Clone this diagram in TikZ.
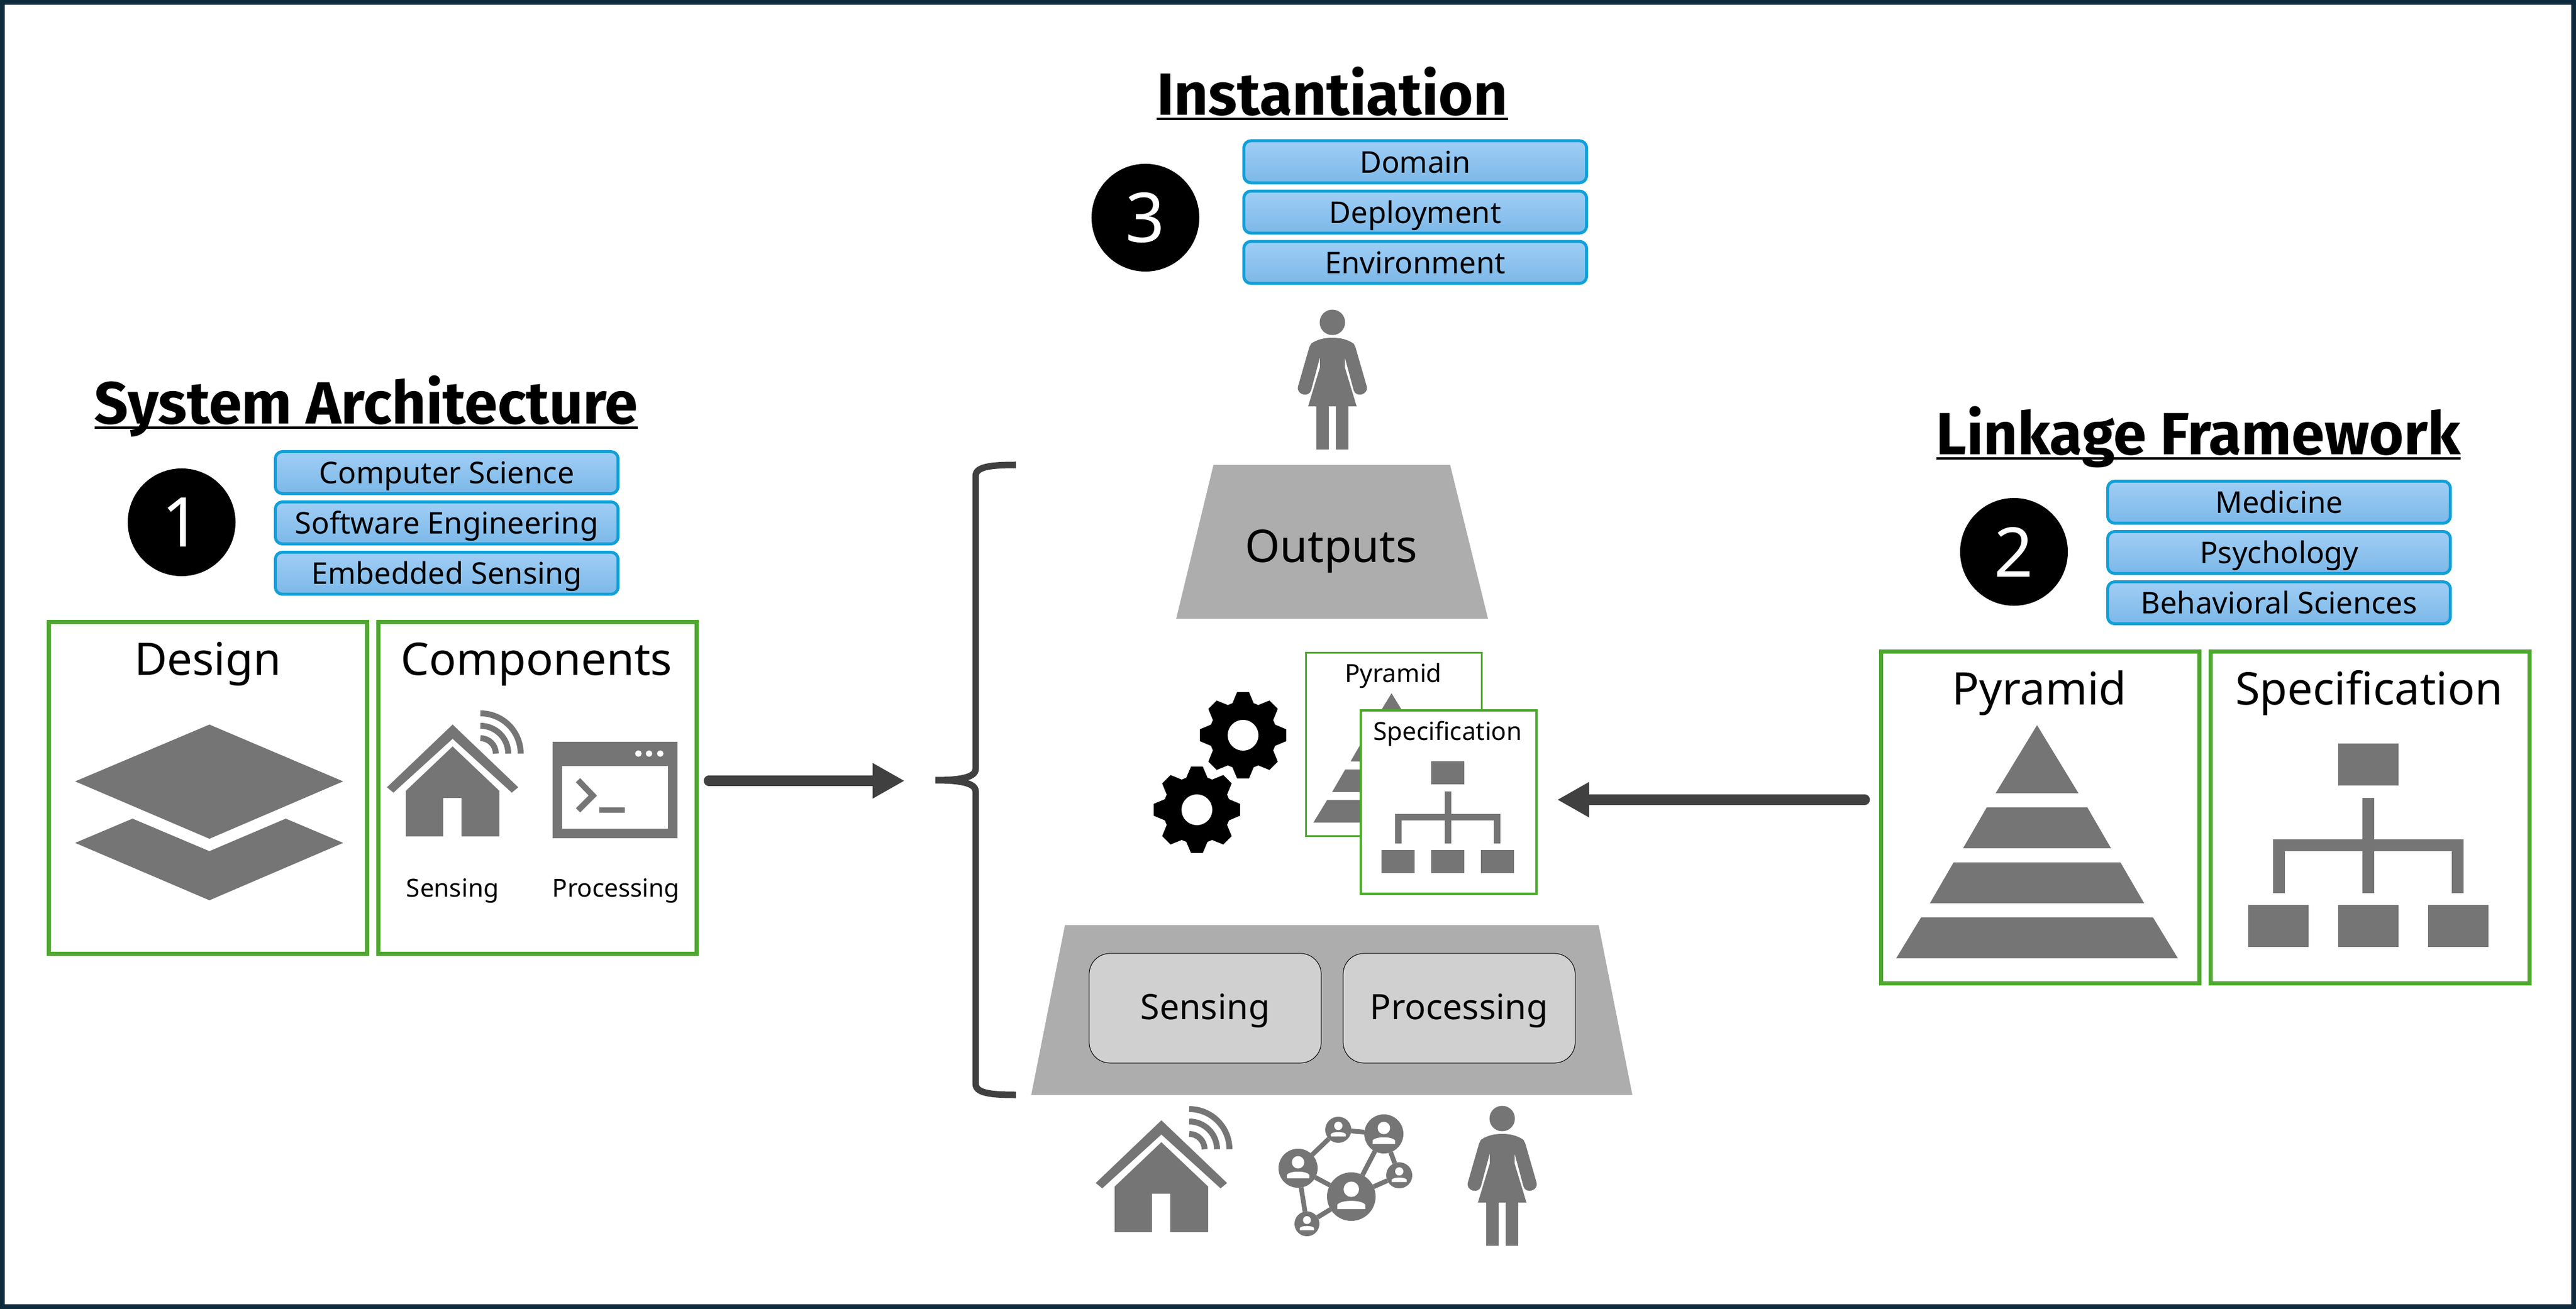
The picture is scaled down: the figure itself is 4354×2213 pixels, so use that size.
\documentclass[tikz,border=0pt]{standalone}
\usepackage{fontspec}
\setmainfont{Noto Sans}
\newfontfamily\titlefont{Fira Sans}
\usetikzlibrary{positioning,arrows.meta}

\definecolor{framenavy}{HTML}{0E2A3D}
\definecolor{cardgreen}{HTML}{4EA72E}
\definecolor{fieldedge}{HTML}{10A0D8}
\definecolor{fieldtop}{HTML}{A0CEF5}
\definecolor{fieldbottom}{HTML}{7CB8E8}
\definecolor{icongray}{HTML}{757575}
\definecolor{layergray}{HTML}{ADADAD}
\definecolor{innergray}{HTML}{D0D0D0}
\definecolor{arrowgray}{HTML}{404040}

\newcommand{\headingtext}[1]{\setbox0=\hbox{#1}\leavevmode\copy0\llap{\vrule width\wd0 height -1.1pt depth 2.2pt}}

\tikzset{
  titlelabel/.style={anchor=base,inner sep=0pt,font=\fontsize{28.6}{32}\selectfont\titlefont\bfseries},
  biglabel/.style={anchor=base,inner sep=0pt,font=\fontsize{21.6}{25}\selectfont},
  midlabel/.style={anchor=base,inner sep=0pt,font=\fontsize{16.8}{20}\selectfont},
  smalllabel/.style={anchor=base,inner sep=0pt,font=\fontsize{12}{14}\selectfont},
  badge/.style={circle,fill=black,text=white,minimum size=1.82cm,inner sep=0pt,font=\fontsize{33}{36}\selectfont},
  fieldbox/.style={draw=fieldedge,line width=0.05cm,rounded corners=0.12cm,top color=fieldtop,bottom color=fieldbottom,
    minimum width=5.79cm,minimum height=0.71cm,inner sep=0pt,text height=0.37cm,text depth=0cm,font=\fontsize{14.4}{17}\selectfont},
  cardbox/.style={draw=cardgreen,line width=0.07cm,fill=white,inner sep=0pt,minimum width=5.38cm,minimum height=5.6cm},
  minicard/.style={draw=cardgreen,line width=0.035cm,fill=white,inner sep=0pt,minimum width=2.97cm,minimum height=3.1cm},
  innerbox/.style={draw=black,line width=0.01cm,fill=innergray,rounded corners=0.35cm,inner sep=0pt,minimum width=3.92cm,minimum height=1.85cm},
  flowarrow/.style={draw=arrowgray,line width=0.17cm,line cap=round,-{Triangle[length=0.54cm,width=0.56cm]}},
  netnode/.style={circle,fill=icongray,inner sep=0pt,outer sep=0pt},
  netlink/.style={draw=icongray,line width=0.08cm},
  houseicon/.pic={
    \fill[icongray] (0,0) -- (111,106) -- (100,115) -- (0,24) -- (-100,115) -- (-111,106) -- cycle;
    \fill[icongray] (0,37) -- (79,112) -- (79,189) -- (15,189) -- (15,124) -- (-16,124) -- (-16,189) -- (-79,189) -- (-79,112) -- cycle;
    \foreach \rad in {26,47,68}
      \draw[icongray,line width=0.1cm] (47,49-\rad) arc (-90:0:\rad);
  },
  personicon/.pic={
    \fill[icongray] (0,0) circle (21.5);
    \fill[icongray] (0,26) .. controls (-14,26) and (-26,29) .. (-36,36) -- (-39,42) -- (-58,108)
      .. controls (-62,122) and (-40,128) .. (-36,115) -- (-21,59) -- (-21,76) -- (-41,142) -- (-27,142)
      -- (-27,215) -- (-6,215) -- (-6,142) -- (6,142) -- (6,215) -- (27,215) -- (27,142) -- (41,142)
      -- (21,76) -- (21,59) -- (36,115) .. controls (40,128) and (62,122) .. (58,108) -- (39,42) -- (36,36)
      .. controls (26,29) and (14,26) .. (0,26) -- cycle;
  },
  pyramidicon/.pic={
    \fill[icongray] (0,0) -- (70,115) -- (-70,115) -- cycle;
    \fill[icongray] (-85,139) -- (85,139) -- (125,208) -- (-125,208) -- cycle;
    \fill[icongray] (-141,232) -- (141,232) -- (181,301) -- (-181,301) -- cycle;
    \fill[icongray] (-196,325) -- (196,325) -- (238,394) -- (-238,394) -- cycle;
  },
  orgicon/.pic={
    \fill[icongray] (-51,0) rectangle (51,71);
    \fill[icongray] (-10,92) rectangle (10,253);
    \fill[icongray] (-161,162) rectangle (161,182);
    \fill[icongray] (-161,162) rectangle (-141,253);
    \fill[icongray] (141,162) rectangle (161,253);
    \foreach \cx in {-152,0,152}
      \fill[icongray] (\cx-51,273) rectangle (\cx+51,344);
  },
  gearicon/.pic={
    \fill[black] (0,0) circle (57);
    \foreach \ang in {0,45,...,315}
      \fill[black,rotate=\ang] (-18,-54) -- (-10,-73) -- (10,-73) -- (18,-54) -- cycle;
    \fill[white] (0,0) circle (26);
  },
  netperson/.pic={
    \fill[white] (0,-10) circle (10.5);
    \fill[white] (-19,17) -- (-19,11) .. controls (-14,4) and (14,4) .. (19,11) -- (19,17) -- cycle;
  },
}

\begin{document}
\begin{tikzpicture}[x=0.01cm,y=-0.01cm]
  \useasboundingbox (0,0) rectangle (4354,2213);
  \draw[framenavy,line width=0.08cm] (4,4) rectangle (4350,2209);

  % system architecture
  \node[titlelabel] (systitle) at (619,717) {\headingtext{System Architecture}};
  \node[badge] (sysbadge) at (307,883) {1};
  \node[fieldbox] (computer) at (755,799) {Computer Science};
  \node[fieldbox,below=0.09cm of computer] (software) {Software Engineering};
  \node[fieldbox,below=0.09cm of software] (embedded) {Embedded Sensing};
  \node[cardbox] (designcard) at (351.5,1332) {};
  \node[cardbox,right=0.12cm of designcard] (compcard) {};
  \node[biglabel] (designlabel) at (351,1142) {Design};
  \node[biglabel] (complabel) at (907,1142) {Components};
  \fill[icongray] (127,1321) -- (354,1225) -- (580,1321) -- (354,1418) -- cycle;
  \fill[icongray] (127,1425) -- (224,1384) -- (354,1439) -- (483,1384) -- (580,1425) -- (354,1522) -- cycle;
  \pic at (765,1225) {houseicon};
  % terminal window
  \fill[icongray,even odd rule] (934,1254) rectangle (1145,1417) (950,1295) rectangle (1129,1401);
  \foreach \dotx in {1079,1097,1116}
    \fill[white] (\dotx,1274) circle (5.5);
  \draw[icongray,line width=0.1cm] (977,1319) -- (1002,1345) -- (977,1370);
  \fill[icongray] (1013,1365) rectangle (1056,1374);
  \node[smalllabel] (senselabel) at (765,1516) {Sensing};
  \node[smalllabel] (proclabel) at (1041,1516) {Processing};

  % instantiation
  \node[titlelabel] (insttitle) at (2252,195) {\headingtext{Instantiation}};
  \node[badge] (instbadge) at (1936,368) {3};
  \node[fieldbox] (domain) at (2392,273.5) {Domain};
  \node[fieldbox,below=0.09cm of domain] (deploy) {Deployment};
  \node[fieldbox,below=0.09cm of deploy] (environ) {Environment};
  \pic at (2252,545) {personicon};

  % middle stack
  \fill[layergray] (2051,786) -- (2451,786) -- (2515,1046) -- (1988,1046) -- cycle;
  \node[biglabel] (outlabel) at (2250,951) {Outputs};
  \pic at (2101,1243) {gearicon};
  \pic at (2023,1369) {gearicon};
  \node[minicard] (minipyr) at (2356,1258.5) {};
  \node[smalllabel] (minipyrlabel) at (2355,1153) {Pyramid};
  \pic[scale=0.555] at (2352,1172) {pyramidicon};
  \node[minicard] (minispec) at (2448.5,1356) {};
  \node[smalllabel] (minispeclabel) at (2447,1251) {Specification};
  \pic[scale=0.55] at (2447,1287) {orgicon};
  \fill[layergray] (1800,1564) -- (2702,1564) -- (2759,1851) -- (1743,1851) -- cycle;
  \node[innerbox] (senseinner) at (2037,1704.5) {};
  \node[innerbox,right=0.36cm of senseinner] (procinner) {};
  \node[midlabel] (senseinnerlabel) at (2037,1723) {Sensing};
  \node[midlabel] (procinnerlabel) at (2466,1723) {Processing};

  % icons under the stack
  \pic at (1963,1894) {houseicon};
  \pic at (2539,1891) {personicon};
  \foreach \name/\px/\py/\rad in {n1/2194/1975/33,n2/2262/1910/22,n3/2339/1917/33,n4/2284/2023/41,n5/2365/1987/22,n6/2209/2069/21}
    \node[netnode,minimum size=\rad*0.02cm] (\name) at (\px,\py) {};
  \foreach \from/\to in {n1/n2,n2/n3,n3/n4,n3/n5,n4/n5,n1/n4,n1/n6,n6/n4}
    \draw[netlink] (\from) -- (\to);
  \foreach \name/\rad in {n1/33,n2/22,n3/33,n4/41,n5/22,n6/21}
    \pic[scale=\rad/33] at (\name) {netperson};

  % brace
  \draw[arrowgray,line width=0.11cm] (1717,786) .. controls (1670,786) and (1649,790) .. (1649,805) -- (1649,1300)
    .. controls (1649,1315) and (1620,1319) .. (1581,1319) .. controls (1620,1319) and (1649,1323) .. (1649,1338)
    -- (1649,1832) .. controls (1649,1847) and (1670,1851) .. (1717,1851);

  % linkage framework
  \node[titlelabel] (linktitle) at (3716,769) {\headingtext{Linkage Framework}};
  \node[badge] (linkbadge) at (3404,933) {2};
  \node[fieldbox] (medicine) at (3852,849) {Medicine};
  \node[fieldbox,below=0.09cm of medicine] (psych) {Psychology};
  \node[fieldbox,below=0.09cm of psych] (behav) {Behavioral Sciences};
  \node[cardbox] (pyrcard) at (3448.5,1382) {};
  \node[cardbox,right=0.12cm of pyrcard] (speccard) {};
  \node[biglabel] (pyrlabel) at (3447,1191) {Pyramid};
  \node[biglabel] (speclabel) at (4004,1191) {Specification};
  \pic at (3443,1226) {pyramidicon};
  \pic at (4003,1257) {orgicon};

  % arrows
  \coordinate (sysout) at (1198,1320);
  \coordinate (bracein) at (1529,1320);
  \coordinate (linkout) at (3152,1352);
  \coordinate (specin) at (2632,1352);
  \draw[flowarrow] (sysout) -- (bracein);
  \draw[flowarrow] (linkout) -- (specin);
\end{tikzpicture}
\end{document}
